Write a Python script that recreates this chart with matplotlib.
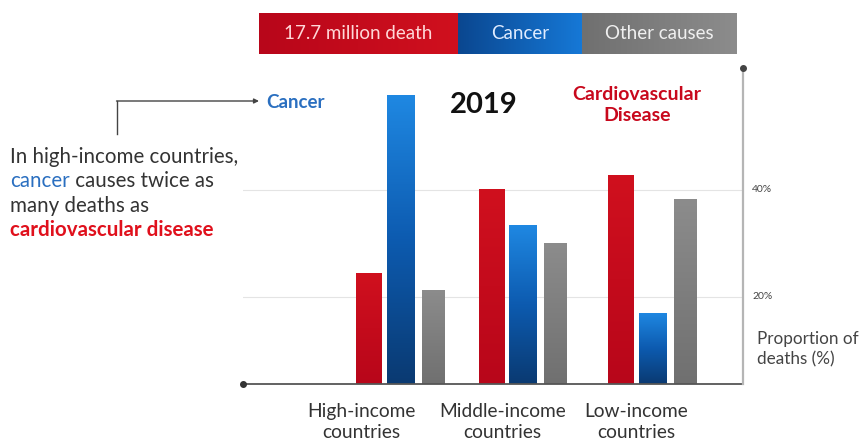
import numpy as np
import matplotlib
matplotlib.use("Agg")
import matplotlib.pyplot as plt
from matplotlib.patches import Rectangle
from matplotlib.colors import LinearSegmentedColormap

plt.rcParams['font.family'] = ['Lato', 'DejaVu Sans']

# data (proportion of deaths, %)
groups = ["High-income\ncountries", "Middle-income\ncountries", "Low-income\ncountries"]
cvd = [24.5, 40.2, 42.8]
cancer = [57.8, 33.5, 17.0]
other = [21.3, 30.1, 38.3]
group_x = [0, 0.97, 2.0]
label_shift = [-0.31, -0.16, -0.13]
yticks = [20, 40]

RED = "#c8081c"
blue_cm = LinearSegmentedColormap.from_list("b", ["#0a3a72", "#0d5bb0", "#1f88e2"])
red_cm = LinearSegmentedColormap.from_list("r", ["#b8061a", "#d0101e"])
gray_cm = LinearSegmentedColormap.from_list("g", ["#707070", "#8c8c8c"])

W, H = 864, 446
fig = plt.figure(figsize=(W / 100, H / 100), dpi=100)
ax = fig.add_axes([243 / W, 1 - 384 / H, (743 - 243) / W, (384 - 68) / H])
ymin, ymax = 3.7, 62.8
ax.set_xlim(-1.25, 2.72)
ax.set_ylim(ymin, ymax)


def grad_bar(x, h, w, cm):
    rect = Rectangle((x - w / 2, ymin), w, h - ymin, facecolor="none", edgecolor="none")
    ax.add_patch(rect)
    grad = np.linspace(1, 0, 100).reshape(-1, 1)
    im = ax.imshow(grad, cmap=cm, aspect="auto", extent=(x - w / 2, x + w / 2, ymin, h),
                   zorder=3, vmin=0, vmax=1)
    im.set_clip_path(rect)


for i, gx in enumerate(group_x):
    grad_bar(gx - 0.25, cvd[i], 0.2, red_cm)
    grad_bar(gx + 0.005, cancer[i], 0.22, blue_cm)
    grad_bar(gx + 0.26, other[i], 0.18, gray_cm)
    ax.text(gx + label_shift[i], -0.06, groups[i], transform=ax.get_xaxis_transform(),
            ha="center", va="top", fontsize=13.8, color="#333333", linespacing=1.3)

ax.set_xlim(-1.25, 2.72)
ax.set_ylim(ymin, ymax)

for yv in yticks:
    ax.axhline(yv, color="#e4e4e4", lw=0.8, zorder=1)
    ax.text(1.018, yv, "%d%%" % yv, transform=ax.get_yaxis_transform(), fontsize=7.5,
            color="#444444", va="center", ha="left")

for s in ax.spines.values():
    s.set_visible(False)
ax.set_xticks([])
ax.set_yticks([])
ax.patch.set_alpha(0)

# axis lines with round ends
ax.plot([0, 1], [0, 0], transform=ax.transAxes, color="#555555", lw=1.3, clip_on=False, zorder=4)
ax.plot([0], [0], "o", transform=ax.transAxes, color="#333333", ms=4, clip_on=False, zorder=5)
ax.plot([1, 1], [0, 1], transform=ax.transAxes, color="#b5b5b5", lw=1.6, clip_on=False, zorder=4)
ax.plot([1], [1], "o", transform=ax.transAxes, color="#444444", ms=4, clip_on=False, zorder=5)

fig.text(757 / W, 1 - 349 / H, "Proportion of\ndeaths (%)", fontsize=12.3, color="#444444",
         va="center", ha="left", linespacing=1.3)

# titles inside the chart
fig.text(484 / W, 1 - 105 / H, "2019", fontsize=21, fontweight="bold", color="#111111",
         ha="center", va="center")
fig.text(637 / W, 1 - 105 / H, "Cardiovascular\nDisease", fontsize=14, fontweight="bold",
         color=RED, ha="center", va="center", linespacing=1.25)

# left annotation
fig.text(266 / W, 1 - 102 / H, "Cancer", fontsize=13.5, fontweight="bold", color="#2a6fc0",
         ha="left", va="center")
fig.add_artist(plt.Line2D([117 / W, 117 / W], [1 - 134 / H, 1 - 101 / H], color="#444444", lw=1))
ax.annotate("", xy=(259 / W, 1 - 101 / H), xytext=(116.5 / W, 1 - 101 / H),
            xycoords="figure fraction", textcoords="figure fraction",
            arrowprops=dict(arrowstyle="-|>", color="#444444", lw=1, mutation_scale=7,
                            shrinkA=0, shrinkB=0))

lines = [
    [("In high-income countries,", "#333333", "normal")],
    [("cancer", "#2a6fc0", "normal"), (" causes twice as", "#333333", "normal")],
    [("many deaths as", "#333333", "normal")],
    [("cardiovascular disease", "#e0101c", "bold")],
]
renderer = fig.canvas.get_renderer()
y0 = 157
for k, parts in enumerate(lines):
    xp = 10
    for txt, col, wt in parts:
        t = fig.text(xp / W, 1 - (y0 + k * 24.3) / H, txt, fontsize=14.8, color=col,
                     fontweight=wt, ha="left", va="center")
        bb = t.get_window_extent(renderer)
        xp += bb.width

# top legend bar
leg = [("17.7 million death", 259, 458, red_cm, "#ffd8d8"),
       ("Cancer", 458, 582, LinearSegmentedColormap.from_list("lb", ["#0a4790", "#1678d6"]), "#e0ecff"),
       ("Other causes", 582, 737, gray_cm, "#f0f0f0")]
lax = fig.add_axes([0, 1 - 54 / H, 1, 41 / H])
lax.set_xlim(0, W)
lax.set_ylim(0, 1)
lax.axis("off")
for txt, x0, x1, cm, tc in leg:
    g = np.linspace(0, 1, 100).reshape(1, -1)
    lax.imshow(g, cmap=cm, aspect="auto", extent=(x0, x1, 0, 1), vmin=0, vmax=1)
    lax.text((x0 + x1) / 2, 0.5, txt, ha="center", va="center", fontsize=13.5, color=tc)
lax.set_xlim(0, W)
lax.set_ylim(0, 1)

fig.savefig("out.png", dpi=100)
